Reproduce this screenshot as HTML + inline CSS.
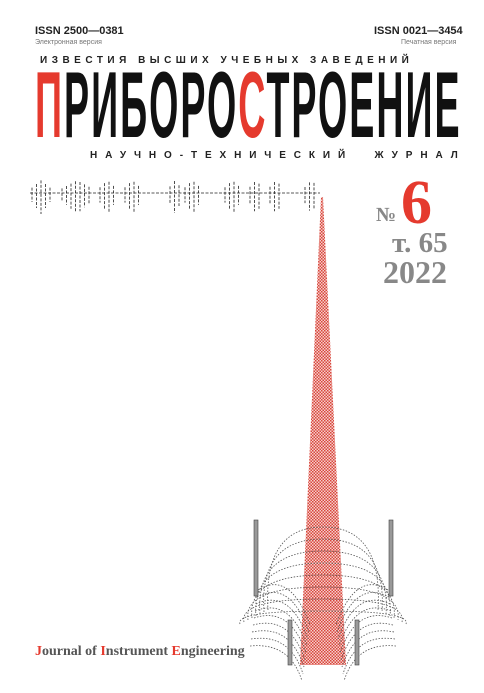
<!DOCTYPE html>
<html><head><meta charset="utf-8"><style>
body{margin:0;background:#fff;}
#c{position:relative;width:484px;height:693px;overflow:hidden;background:#fff;font-family:"Liberation Sans","DejaVu Sans",sans-serif;}
.a{position:absolute;white-space:nowrap;}
</style></head><body>
<div id="c">
<div class="a" style="left:35px;top:25px;font-size:11px;font-weight:bold;color:#222;">ISSN 2500—0381</div>
<div class="a" style="left:35px;top:39px;font-size:7px;color:#777;">Электронная версия</div>
<div class="a" style="left:374px;top:25px;font-size:11px;font-weight:bold;color:#222;">ISSN 0021—3454</div>
<div class="a" style="left:401px;top:39px;font-size:7px;color:#777;">Печатная версия</div>
<div class="a" style="left:40px;top:55px;font-size:10px;font-weight:bold;color:#222;letter-spacing:4.5px;">ИЗВЕСТИЯ ВЫСШИХ УЧЕБНЫХ ЗАВЕДЕНИЙ</div>
<div class="a" style="left:35px;top:58px;font-size:94px;font-weight:bold;color:#111;transform-origin:0 0;transform:scaleX(0.40);letter-spacing:5px;line-height:1;">
<span style="color:#e53a2e">П</span>РИБОРО<span style="color:#e53a2e">С</span>ТРОЕНИЕ</div>
<div class="a" style="left:90px;top:150px;font-size:10px;font-weight:bold;color:#222;letter-spacing:7.9px;">НАУЧНО-ТЕХНИЧЕСКИЙ &nbsp;ЖУРНАЛ</div>
<div class="a" style="left:376px;top:204px;font-family:'Liberation Serif',serif;font-size:20px;font-weight:bold;color:#888;">№</div>
<div class="a" style="left:401px;top:172px;font-family:'Liberation Serif',serif;font-size:62px;font-weight:bold;color:#e53a2e;line-height:1;">6</div>
<div class="a" style="left:392px;top:229px;font-family:'Liberation Serif',serif;font-size:29px;font-weight:bold;color:#888;line-height:1;">т. 65</div>
<div class="a" style="left:383px;top:256px;font-family:'Liberation Serif',serif;font-size:32px;font-weight:bold;color:#888;line-height:1;">2022</div>
<div class="a" style="left:35px;top:644px;font-family:'Liberation Serif',serif;font-size:14px;font-weight:bold;color:#555;"><span style="color:#e53a2e">J</span>ournal of <span style="color:#e53a2e">I</span>nstrument <span style="color:#e53a2e">E</span>ngineering</div>
<svg id="s" class="a" style="left:0;top:0" width="484" height="693">
<defs><pattern id="chk" width="3" height="3" patternUnits="userSpaceOnUse"><rect width="3" height="3" fill="#f6d0cc"/><rect width="1.5" height="1.5" fill="#d8463c"/><rect x="1.5" y="1.5" width="1.5" height="1.5" fill="#d8463c"/></pattern></defs>
<polygon points="321,197 323,197 346,665 300,665" fill="url(#chk)"/>
<g id="wave" stroke="#222" stroke-width="0.8" stroke-dasharray="3,1.5" fill="none"></g>
<g id="field" stroke="#555" stroke-width="0.8" stroke-dasharray="1.5,1.5" fill="none"></g>
<rect x="254" y="520" width="4" height="76" fill="#999" stroke="#444" stroke-width="0.6"/>
<rect x="389" y="520" width="4" height="76" fill="#999" stroke="#444" stroke-width="0.6"/>
<rect x="288" y="620" width="4" height="45" fill="#999" stroke="#444" stroke-width="0.6"/>
<rect x="355" y="620" width="4" height="45" fill="#999" stroke="#444" stroke-width="0.6"/>
</svg>
</div>
<script>
const NS='http://www.w3.org/2000/svg';
const wave=document.getElementById('wave');
const bursts=[[32,50],[62,92],[100,115],[125,140],[170,180],[185,200],[225,240],[250,262],[270,282],[305,318]];
let d='M30 193 L320 193';
bursts.forEach(([a,b])=>{
  for(let x=a;x<=b;x+=4.5){
    const m=1-Math.abs((x-(a+b)/2)/((b-a)/2+3));
    const h=5+16*m;
    d+=` M${x.toFixed(1)} ${(193-h*0.6).toFixed(1)} L${x.toFixed(1)} ${(193+h).toFixed(1)}`;
  }
});
const p=document.createElementNS(NS,'path');
p.setAttribute('d',d);


wave.appendChild(p);
const field=document.getElementById('field');
const cx=323;
function add(dd){const e=document.createElementNS(NS,'path');e.setAttribute('d',dd);


field.appendChild(e);}
for(let i=0;i<8;i++){
  const top=527+i*12, w=55+i*4, yb=610+i*2;
  add(`M${cx-w} ${yb} Q${cx-w-5} ${top} ${cx} ${top} Q${cx+w+5} ${top} ${cx+w} ${yb}`);
}
for(let i=0;i<9;i++){
  const y=600+i*7;
  add(`M${258-i} ${y-10} Q290 ${y-30+i*2} ${310-i} ${y+25}`);
  add(`M${388+i} ${y-10} Q356 ${y-30+i*2} ${336+i} ${y+25}`);
}
</script>
</body></html>
